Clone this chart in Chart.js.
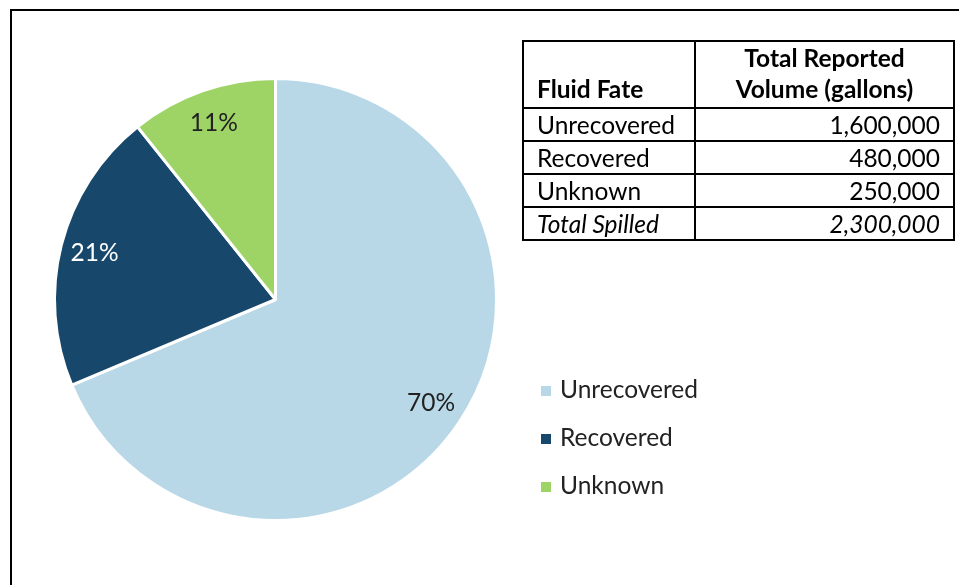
<!DOCTYPE html>
<html>
<head>
<meta charset="utf-8">
<script src="https://cdn.jsdelivr.net/npm/chart.js@4"></script>
<style>
  html, body { margin: 0; padding: 0; background: #fff; }
  body { width: 959px; height: 585px; position: relative; overflow: hidden; font-family: Lato, 'Liberation Sans', sans-serif; }
  #frame { position: absolute; left: 10px; top: 9px; width: 1000px; height: 700px; border-left: 2px solid #000; border-top: 2px solid #000; }
  #wrap { position: absolute; left: 0; top: 0; width: 959px; height: 585px; }
  #fateTable { position: absolute; left: 522px; top: 40px; width: 433px; border-collapse: collapse; font-size: 24.5px; color: #000; }
  #fateTable td, #fateTable th { border: 2px solid #000; padding: 0 13px; height: 31px; line-height: 28px; }
  #fateTable th { font-weight: bold; vertical-align: bottom; height: 62px; padding-bottom: 3px; line-height: 31px; }
  #fateTable th.first { text-align: left; width: 144px; }
  #fateTable th.second { text-align: center; }
  #fateTable td.num { text-align: right; }
  #fateTable tr.total td { font-style: italic; }
  #legend { position: absolute; left: 541px; top: 374px; font-size: 24.5px; color: #222; }
  #legend .item { height: 48px; display: flex; align-items: flex-start; }
  #legend .box { width: 10px; height: 10px; margin-top: 12px; margin-right: 9px; }
</style>
</head>
<body>
<div id="frame"></div>
<div id="wrap"><canvas id="fateChart" width="959" height="585"></canvas></div>
<table id="fateTable"></table>
<div id="legend"></div>
<script>
const categories = ['Unrecovered', 'Recovered', 'Unknown'];
const volumes = [1600000, 480000, 250000];
const pctLabels = ['70%', '21%', '11%'];
const totalLabel = 'Total Spilled';
const totalVolume = 2300000;
const colors = ['#B8D8E8', '#17486B', '#9ED366'];
const labelColors = ['#222222', '#FFFFFF', '#222222'];

// percentage labels inside slices
const sliceLabels = {
    id: 'sliceLabels',
    afterDatasetsDraw(chart) {
        const ctx = chart.ctx;
        const meta = chart.getDatasetMeta(0);
        ctx.save();
        ctx.font = '24.5px Lato, sans-serif';
        ctx.textAlign = 'center';
        ctx.textBaseline = 'middle';
        meta.data.forEach((arc, i) => {
            const mid = (arc.startAngle + arc.endAngle) / 2;
            const r = arc.outerRadius * 0.845;
            ctx.fillStyle = labelColors[i];
            ctx.fillText(pctLabels[i], arc.x + Math.cos(mid) * r, arc.y + Math.sin(mid) * r);
        });
        ctx.restore();
    }
};

const fateCtx = document.getElementById('fateChart').getContext('2d');
const fateChart = new Chart(fateCtx, {
    type: 'pie',
    data: {
        labels: categories,
        datasets: [{
            data: volumes,
            backgroundColor: colors,
            borderColor: '#ffffff',
            borderWidth: 3
        }]
    },
    options: {
        responsive: false,
        animation: false,
        layout: { padding: { left: 53, right: 461, top: 77, bottom: 63 } },
        plugins: {
            legend: { display: false },
            tooltip: { enabled: false }
        }
    },
    plugins: [sliceLabels]
});

// table
const fmt = v => v.toLocaleString('en-US');
let html = '<tr><th class="first">Fluid Fate</th><th class="second">Total Reported<br>Volume (gallons)</th></tr>';
categories.forEach((c, i) => {
    html += '<tr><td>' + c + '</td><td class="num">' + fmt(volumes[i]) + '</td></tr>';
});
html += '<tr class="total"><td>' + totalLabel + '</td><td class="num">' + fmt(totalVolume) + '</td></tr>';
document.getElementById('fateTable').innerHTML = html;

// legend
const legend = document.getElementById('legend');
categories.forEach((c, i) => {
    const item = document.createElement('div');
    item.className = 'item';
    item.innerHTML = '<span class="box" style="background:' + colors[i] + '"></span><span>' + c + '</span>';
    legend.appendChild(item);
});
</script>
</body>
</html>
